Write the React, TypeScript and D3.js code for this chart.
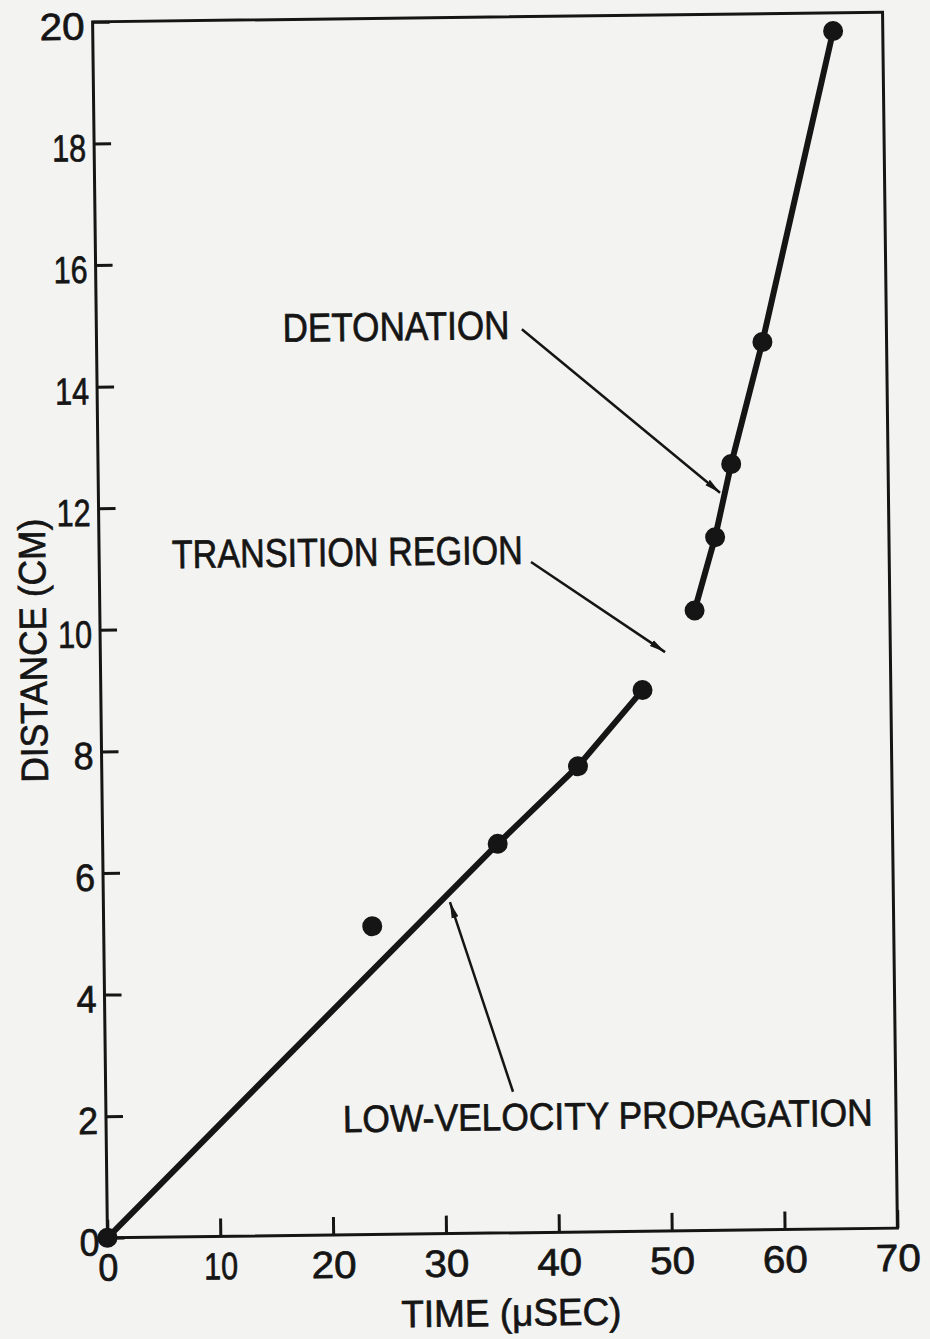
import { useEffect, useRef } from "react";
import * as d3 from "d3";

// axis ticks
const timeTicks = [0, 10, 20, 30, 40, 50, 60, 70];
const distTicks = [0, 2, 4, 6, 8, 10, 12, 14, 16, 18, 20];

// measured points, low-velocity branch
const lowTime = [0, 23.8, 35.0, 42.2, 48.0];
const lowDist = [0, 5.07, 6.4, 7.66, 8.9];

// measured points, detonation branch
const detTime = [52.7, 54.6, 56.1, 59.0, 65.6];
const detDist = [10.2, 11.4, 12.6, 14.6, 19.7];

// faired curves through the points (the 23.8 us point is left off the curve)
const lowFitTime = [0, 35.0, 42.2, 48.0];
const lowFitDist = [0, 6.4, 7.66, 8.9];
const detFitTime = [52.7, 54.6, 56.1, 59.0, 65.6];
const detFitDist = [10.2, 11.4, 12.6, 14.6, 19.7];

// callouts, in data units
const notes = [
  { text: "DETONATION", at: [16.5, 14.7], len: 227, size: 40, from: [37.7, 14.86], to: [55.08, 12.13] },
  { text: "TRANSITION REGION", at: [6.44, 11.0], len: 351, size: 40, from: [38.26, 11.03], to: [50.04, 9.52] },
  { text: "LOW-VELOCITY PROPAGATION", at: [20.98, 1.69], len: 530, size: 38, from: [36.09, 2.32], to: [30.71, 5.45] },
];

// lettering-guide digits: the "1" is a plain bar
const labelWidth = (s: string) =>
  s.split("").reduce((w, c) => w + (c === "1" ? 9 : 20), 0) + (s.length - 1) * 5;

const App = () => {
  const ref = useRef<SVGSVGElement>(null);

  useEffect(() => {
    const width = 930;
    const height = 1339;
    const ink = "#151515";
    const font = "'Liberation Sans', Arial, Helvetica, sans-serif";

    const svg = d3.select(ref.current).attr("width", width).attr("height", height);
    svg.selectAll("*").remove();

    svg.append("rect").attr("width", width).attr("height", height).attr("fill", "#f3f3f1");

    const defs = svg.append("defs");
    defs
      .append("marker")
      .attr("id", "arrow")
      .attr("viewBox", "0 -5 16 10")
      .attr("refX", 16)
      .attr("refY", 0)
      .attr("markerWidth", 16)
      .attr("markerHeight", 10)
      .attr("markerUnits", "userSpaceOnUse")
      .attr("orient", "auto")
      .append("path")
      .attr("d", "M0,-3.5L16,0L0,3.5Z")
      .attr("fill", ink);

    const x = d3.scaleLinear().domain([0, 70]).range([100, 890]);
    const y = d3.scaleLinear().domain([0, 20]).range([1233, 17]);

    // the original sheet sits slightly turned
    const g = svg.append("g").attr("transform", "rotate(-0.7 495 625)");

    const styleText = (sel: any, size: number) =>
      sel
        .attr("fill", ink)
        .attr("stroke", ink)
        .attr("stroke-width", 0.7)
        .style("font-family", font)
        .style("font-size", `${size}px`);

    // bottom axis
    const xAxis = g
      .append("g")
      .attr("transform", `translate(0,${y(0)})`)
      .call(d3.axisBottom(x).tickValues(timeTicks).tickSizeInner(-18).tickSizeOuter(0).tickPadding(16).tickFormat(d3.format("d")));
    xAxis.select(".domain").remove();
    xAxis.selectAll("line").attr("stroke", ink).attr("stroke-width", 3);
    styleText(xAxis.selectAll("text"), 38)
      .attr("textLength", function (this: any) {
        return labelWidth(this.textContent);
      })
      .attr("lengthAdjust", "spacingAndGlyphs");

    // left axis
    const yAxis = g
      .append("g")
      .attr("transform", `translate(${x(0)},0)`)
      .call(d3.axisLeft(y).tickValues(distTicks).tickSizeInner(-17).tickSizeOuter(0).tickPadding(8).tickFormat(d3.format("d")));
    yAxis.select(".domain").remove();
    yAxis.selectAll("line").attr("stroke", ink).attr("stroke-width", 3);
    styleText(yAxis.selectAll("text"), 38)
      .attr("dy", "0.45em")
      .attr("textLength", function (this: any) {
        return labelWidth(this.textContent);
      })
      .attr("lengthAdjust", "spacingAndGlyphs");

    // frame
    g.append("rect")
      .attr("x", x(0))
      .attr("y", y(20))
      .attr("width", x(70) - x(0))
      .attr("height", y(0) - y(20))
      .attr("fill", "none")
      .attr("stroke", ink)
      .attr("stroke-width", 3);

    const curve = (ts: number[], ds: number[]) =>
      d3
        .line<number>()
        .x((_, i) => x(ts[i]))
        .y((_, i) => y(ds[i]))(ts);

    g.append("path")
      .attr("d", curve(lowFitTime, lowFitDist))
      .attr("fill", "none")
      .attr("stroke", ink)
      .attr("stroke-width", 6)
      .attr("stroke-linecap", "round");

    g.append("path")
      .attr("d", curve(detFitTime, detFitDist))
      .attr("fill", "none")
      .attr("stroke", ink)
      .attr("stroke-width", 6)
      .attr("stroke-linecap", "round");

    // points
    const pts = [
      ...lowTime.map((t, i) => [t, lowDist[i]]),
      ...detTime.map((t, i) => [t, detDist[i]]),
    ];
    g.selectAll("circle.pt")
      .data(pts)
      .enter()
      .append("circle")
      .attr("class", "pt")
      .attr("cx", (d) => x(d[0]))
      .attr("cy", (d) => y(d[1]))
      .attr("r", 10)
      .attr("fill", ink);

    // callouts
    notes.forEach((n) => {
      styleText(
        g
          .append("text")
          .attr("x", x(n.at[0]))
          .attr("y", y(n.at[1]))
          .attr("textLength", n.len)
          .attr("lengthAdjust", "spacingAndGlyphs")
          .text(n.text),
        n.size
      );

      g.append("line")
        .attr("x1", x(n.from[0]))
        .attr("y1", y(n.from[1]))
        .attr("x2", x(n.to[0]))
        .attr("y2", y(n.to[1]))
        .attr("stroke", ink)
        .attr("stroke-width", 2.5)
        .attr("marker-end", "url(#arrow)");
    });

    // axis titles
    styleText(
      g
        .append("text")
        .attr("x", 393)
        .attr("y", 1326)
        .attr("textLength", 220)
        .attr("lengthAdjust", "spacingAndGlyphs")
        .text("TIME (\u03bcSEC)"),
      38
    );

    styleText(
      g
        .append("text")
        .attr("transform", "translate(46,645) rotate(-90)")
        .attr("text-anchor", "middle")
        .attr("textLength", 264)
        .attr("lengthAdjust", "spacingAndGlyphs")
        .text("DISTANCE (CM)"),
      38
    );
  }, []);

  return (
    <div style={{ position: "absolute", left: 0, top: 0 }}>
      <svg ref={ref}></svg>
    </div>
  );
};

export default App;
